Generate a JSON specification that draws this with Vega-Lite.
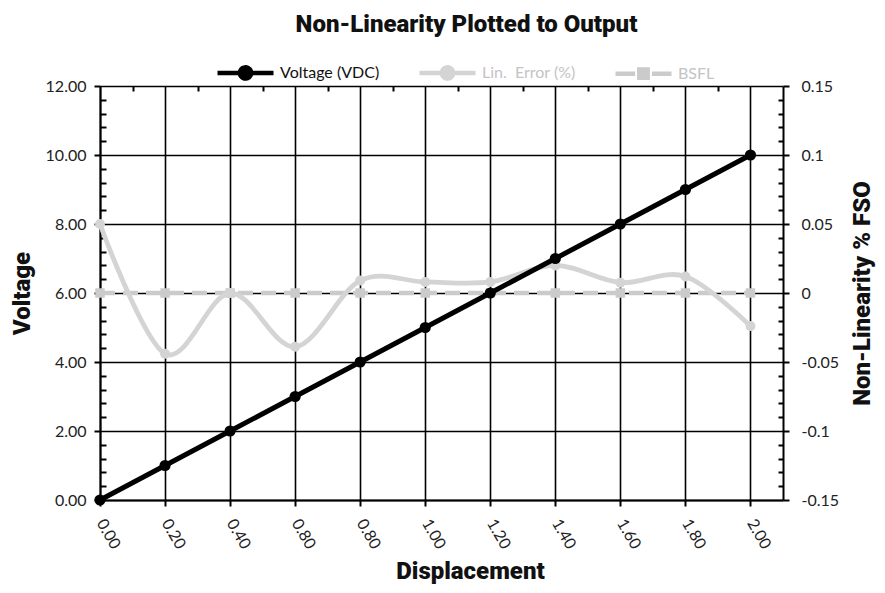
{
  "$schema": "https://vega.github.io/schema/vega-lite/v6.json",
  "width": 683,
  "height": 414,
  "autosize": "none",
  "padding": {"left": 100, "top": 86, "right": 102, "bottom": 93},
  "background": "white",
  "title": {
    "text": "Non-Linearity Plotted to Output",
    "font": "Roboto",
    "fontSize": 24,
    "fontWeight": 900,
    "color": "#111111",
    "anchor": "middle",
    "frame": "group",
    "dx": 25,
    "offset": 5
  },
  "data": {
    "values": [
      {"x": 0.0, "series": "Voltage (VDC)", "value": 0},
      {"x": 0.2, "series": "Voltage (VDC)", "value": 1},
      {"x": 0.4, "series": "Voltage (VDC)", "value": 2},
      {"x": 0.6, "series": "Voltage (VDC)", "value": 3},
      {"x": 0.8, "series": "Voltage (VDC)", "value": 4},
      {"x": 1.0, "series": "Voltage (VDC)", "value": 5},
      {"x": 1.2, "series": "Voltage (VDC)", "value": 6},
      {"x": 1.4, "series": "Voltage (VDC)", "value": 7},
      {"x": 1.6, "series": "Voltage (VDC)", "value": 8},
      {"x": 1.8, "series": "Voltage (VDC)", "value": 9},
      {"x": 2.0, "series": "Voltage (VDC)", "value": 10},
      {"x": 0.0, "series": "Lin.\u00a0 Error (%)", "value": 0.05},
      {"x": 0.2, "series": "Lin.\u00a0 Error (%)", "value": -0.044},
      {"x": 0.4, "series": "Lin.\u00a0 Error (%)", "value": 0},
      {"x": 0.6, "series": "Lin.\u00a0 Error (%)", "value": -0.039},
      {"x": 0.8, "series": "Lin.\u00a0 Error (%)", "value": 0.009},
      {"x": 1.0, "series": "Lin.\u00a0 Error (%)", "value": 0.008},
      {"x": 1.2, "series": "Lin.\u00a0 Error (%)", "value": 0.008},
      {"x": 1.4, "series": "Lin.\u00a0 Error (%)", "value": 0.02},
      {"x": 1.6, "series": "Lin.\u00a0 Error (%)", "value": 0.0075},
      {"x": 1.8, "series": "Lin.\u00a0 Error (%)", "value": 0.012},
      {"x": 2.0, "series": "Lin.\u00a0 Error (%)", "value": -0.024},
      {"x": 0.0, "series": "BSFL", "value": 0},
      {"x": 0.2, "series": "BSFL", "value": 0},
      {"x": 0.4, "series": "BSFL", "value": 0},
      {"x": 0.6, "series": "BSFL", "value": 0},
      {"x": 0.8, "series": "BSFL", "value": 0},
      {"x": 1.0, "series": "BSFL", "value": 0},
      {"x": 1.2, "series": "BSFL", "value": 0},
      {"x": 1.4, "series": "BSFL", "value": 0},
      {"x": 1.6, "series": "BSFL", "value": 0},
      {"x": 1.8, "series": "BSFL", "value": 0},
      {"x": 2.0, "series": "BSFL", "value": 0}
    ]
  },
  "layer": [
    {
      "encoding": {
        "x": {"field": "x", "type": "quantitative", "scale": {"domain": [0, 2.1], "nice": false, "zero": false}, "axis": null},
        "y": {
          "field": "value",
          "type": "quantitative",
          "scale": {"domain": [-0.15, 0.15], "nice": false, "zero": false},
          "axis": {
            "orient": "right",
            "title": "Non-Linearity % FSO",
            "titleFont": "Roboto",
            "titleFontSize": 24,
            "titleFontWeight": 900,
            "titleColor": "#111111",
            "titleAngle": -90,
            "titleX": 79,
            "titleY": 207,
            "titleAlign": "center",
            "titleBaseline": "middle",
            "values": [-0.15, -0.1, -0.05, 0, 0.05, 0.1, 0.15],
            "labelExpr": "toString(round(datum.value * 100) / 100)",
            "labelFont": "Lato",
            "labelFontSize": 16,
            "labelColor": "#222222",
            "labelPadding": 12,
            "tickSize": 6,
            "tickWidth": 2,
            "tickColor": "black",
            "domainColor": "black",
            "domainWidth": 2,
            "grid": false
          }
        },
        "color": {
          "field": "series",
          "type": "nominal",
          "scale": {"domain": ["Voltage (VDC)", "Lin.\u00a0 Error (%)", "BSFL"], "range": ["#000000", "#d4d4d4", "#cbcbcb"]},
          "legend": {
            "orient": "none",
            "legendX": 115,
            "legendY": -44,
            "direction": "horizontal",
            "title": null,
            "padding": 0,
            "symbolType": "M-1,0L1,0M-0.2,0A0.2,0.2,0,1,1,0.2,0A0.2,0.2,0,1,1,-0.2,0Z",
            "symbolSize": 3136,
            "symbolStrokeWidth": 4.5,
            "symbolDash": [1, 0],
            "labelFont": "Lato",
            "labelFontSize": 16,
            "labelOffset": 4,
            "columnPadding": 30,
            "encode": {
              "symbols": {
                "update": {
                  "shape": {"signal": "datum.value == 'BSFL' ? 'M-1,0L-0.3,0M0.3,0L1,0M-0.15,-0.15L0.15,-0.15L0.15,0.15L-0.15,0.15Z' : 'M-1,0L1,0M-0.2,0A0.2,0.2,0,1,1,0.2,0A0.2,0.2,0,1,1,-0.2,0Z'"},
                  "fill": {"signal": "scale('color', datum.value)"},
                  "stroke": {"signal": "scale('color', datum.value)"}
                }
              },
              "labels": {
                "update": {
                  "fill": {"signal": "datum.value == 'Voltage (VDC)' ? '#111111' : '#c4c4c4'"}
                }
              }
            }
          }
        }
      },
      "layer": [
        {
          "transform": [{"filter": "datum.series == 'BSFL'"}],
          "mark": {"type": "line", "strokeWidth": 4.5, "strokeDash": [15, 8]}
        },
        {
          "transform": [{"filter": "datum.series == 'BSFL'"}],
          "mark": {"type": "point", "shape": "square", "filled": true, "size": 90, "opacity": 1}
        },
        {
          "transform": [{"filter": "datum.series == 'Lin.\u00a0 Error (%)'"}],
          "mark": {"type": "line", "strokeWidth": 4.8, "interpolate": "cardinal"}
        },
        {
          "transform": [{"filter": "datum.series == 'Lin.\u00a0 Error (%)'"}],
          "mark": {"type": "point", "shape": "circle", "filled": true, "size": 100, "opacity": 1}
        }
      ]
    },
    {
      "transform": [{"filter": "datum.series == 'Voltage (VDC)'"}],
      "encoding": {
        "x": {
          "field": "x",
          "type": "quantitative",
          "scale": {"domain": [0, 2.1], "nice": false, "zero": false},
          "axis": {
            "title": "Displacement",
            "titleFont": "Roboto",
            "titleFontSize": 24,
            "titleFontWeight": 900,
            "titleColor": "#111111",
            "titleX": 370,
            "titleY": 71,
            "titleAlign": "center",
            "titleBaseline": "middle",
            "values": [0, 0.2, 0.4, 0.6, 0.8, 1.0, 1.2, 1.4, 1.6, 1.8, 2.0],
            "labelExpr": "abs(datum.value - 0.6) < 0.001 ? '0.80' : format(datum.value, '.2f')",
            "labelAngle": 60,
            "labelAlign": "left",
            "labelBaseline": "middle",
            "labelFont": "Lato",
            "labelFontSize": 16,
            "labelColor": "#222222",
            "labelPadding": 14,
            "tickSize": 6,
            "tickWidth": 2,
            "tickColor": "black",
            "domainColor": "black",
            "domainWidth": 2,
            "grid": true,
            "gridColor": "black",
            "gridWidth": 1.6,
            "gridOpacity": 1
          }
        },
        "y": {
          "field": "value",
          "type": "quantitative",
          "scale": {"domain": [0, 12], "nice": false, "zero": false},
          "axis": {
            "orient": "left",
            "title": "Voltage",
            "titleFont": "Roboto",
            "titleFontSize": 24,
            "titleFontWeight": 900,
            "titleColor": "#111111",
            "titleAngle": -90,
            "titleX": -78,
            "titleY": 207,
            "titleAlign": "center",
            "titleBaseline": "middle",
            "values": [0, 2, 4, 6, 8, 10, 12],
            "format": ".2f",
            "labelFont": "Lato",
            "labelFontSize": 16,
            "labelColor": "#222222",
            "labelPadding": 8,
            "tickSize": 6,
            "tickWidth": 2,
            "tickColor": "black",
            "domainColor": "black",
            "domainWidth": 2,
            "grid": true,
            "gridColor": "black",
            "gridWidth": 1.6,
            "gridOpacity": 1
          }
        },
        "color": {
          "field": "series",
          "type": "nominal",
          "scale": {"domain": ["Voltage (VDC)", "Lin.\u00a0 Error (%)", "BSFL"], "range": ["#000000", "#d4d4d4", "#cbcbcb"]}
        }
      },
      "layer": [
        {"mark": {"type": "line", "strokeWidth": 5}},
        {"mark": {"type": "point", "shape": "circle", "filled": true, "size": 125, "opacity": 1}}
      ]
    },
    {
      "transform": [{"filter": "datum.series == 'Voltage (VDC)'"}],
      "mark": {"type": "point", "opacity": 0},
      "encoding": {
        "x": {
          "field": "x",
          "type": "quantitative",
          "scale": {"domain": [0, 2.1], "nice": false, "zero": false},
          "axis": {
            "values": [0.1, 0.3, 0.5, 0.7, 0.9, 1.1, 1.3, 1.5, 1.7, 1.9],
            "labels": false,
            "title": null,
            "domain": false,
            "grid": false,
            "tickSize": -5,
            "tickWidth": 2,
            "tickColor": "black"
          }
        },
        "y": {
          "field": "value",
          "type": "quantitative",
          "scale": {"domain": [0, 12], "nice": false, "zero": false},
          "axis": {
            "orient": "left",
            "values": [0.4, 0.8, 1.2, 1.6, 2.4, 2.8, 3.2, 3.6, 4.4, 4.8, 5.2, 5.6, 6.4, 6.8, 7.2, 7.6, 8.4, 8.8, 9.2, 9.6, 10.4, 10.8, 11.2, 11.6],
            "labels": false,
            "title": null,
            "domain": false,
            "grid": false,
            "tickSize": -6,
            "tickWidth": 2,
            "tickColor": "black"
          }
        }
      }
    },
    {
      "transform": [{"filter": "datum.series == 'BSFL'"}],
      "mark": {"type": "point", "opacity": 0},
      "encoding": {
        "x": {"field": "x", "type": "quantitative", "scale": {"domain": [0, 2.1], "nice": false, "zero": false}, "axis": null},
        "y": {
          "field": "value",
          "type": "quantitative",
          "scale": {"domain": [-0.15, 0.15], "nice": false, "zero": false},
          "axis": {
            "orient": "right",
            "values": [-0.14, -0.13, -0.12, -0.11, -0.09, -0.08, -0.07, -0.06, -0.04, -0.03, -0.02, -0.01, 0.01, 0.02, 0.03, 0.04, 0.06, 0.07, 0.08, 0.09, 0.11, 0.12, 0.13, 0.14],
            "labels": false,
            "title": null,
            "domain": false,
            "grid": false,
            "tickSize": -5,
            "tickWidth": 2,
            "tickColor": "black"
          }
        }
      }
    }
  ],
  "resolve": {
    "scale": {"y": "independent"},
    "axis": {"x": "independent", "y": "independent"}
  },
  "config": {
    "view": {"stroke": null}
  }
}
